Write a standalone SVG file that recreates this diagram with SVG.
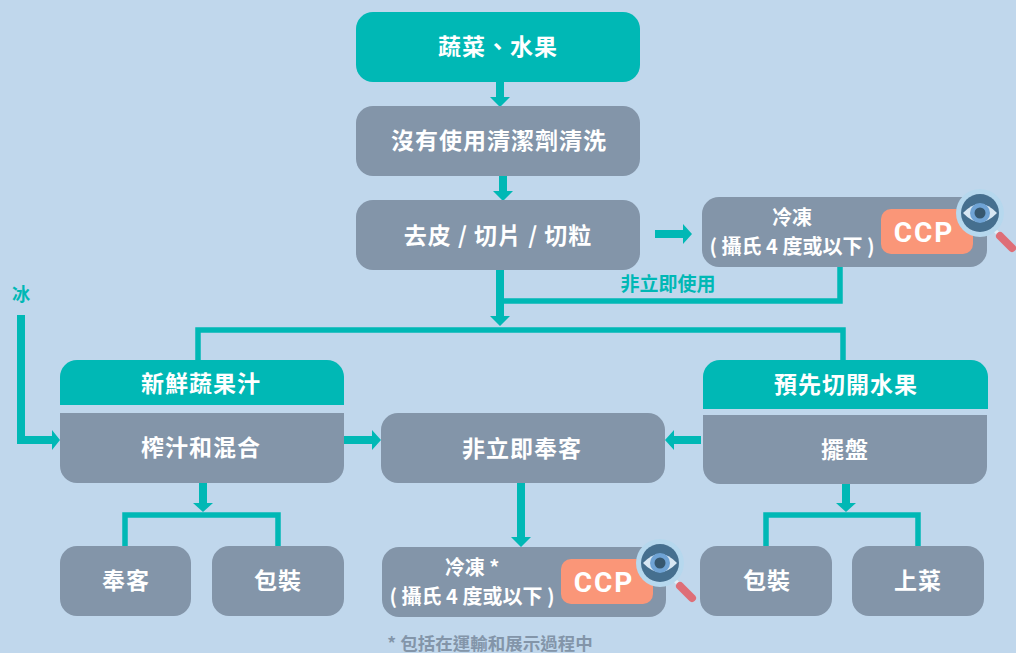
<svg xmlns="http://www.w3.org/2000/svg" width="1016" height="653" viewBox="0 0 1016 653">
<defs>
<style>
text{font-family:"Noto Sans CJK TC","Noto Sans CJK SC",sans-serif;font-weight:700;text-anchor:middle;fill:#fff}
.g{fill:#8395a9}.t{fill:#00b8b5}
.l{fill:none;stroke:#00b8b5;stroke-width:5.500}
.k{fill:none;stroke:#00b8b5;stroke-width:8}
.a{fill:#00b8b5}
.m{font-size:23px;letter-spacing:1px}
.s{font-size:20px}
.c{font-family:Roboto,"Liberation Sans",sans-serif;font-size:28px;letter-spacing:2px;font-weight:700}
</style>
<g id="lens">
<path d="M36 38L46 49" stroke="#e4eef6" stroke-width="4" fill="none"/>
<path d="M44 47L56 59" stroke="#de6e77" stroke-width="8" stroke-linecap="round" fill="none"/>
<circle cx="24" cy="24" r="24" fill="#b6d8ee"/>
<circle cx="24" cy="24" r="19" fill="#456f8f"/>
<path d="M7 24Q24 6 41 24Q24 42 7 24Z" fill="#d9e8f4"/>
<circle cx="24" cy="24" r="10" fill="#6fa3d5"/>
<circle cx="24" cy="24" r="5.500" fill="#36576f"/>
</g>
</defs>
<rect width="1016" height="653" fill="#c0d7ec"/>
<g id="connectors">
<path class="l" d="M500 301H840V267M198 360V330H843V360M125 546V515H278V546M766 546V515H918V546"/>
<path class="k" d="M500 82V98M503 176V192M655 234H684M500 270V318M21 315V440H53M344 440H373M701 440H673M521 483V538M203 483V504M846 484V504"/>
<path class="a" d="M490 97H510L500 107ZM493 191H513L503 201ZM683 224L692 234L683 244ZM490 316H510L500 326ZM52 430L60 440L52 450ZM372 430L381 440L372 450ZM674 430L665 440L674 450ZM511 537H531L521 547ZM193 503H213L203 512ZM836 503H856L846 512Z"/>
</g>
<g id="n1"><rect class="t" x="356" y="12" width="284" height="70" rx="17"/><text class="m" x="498" y="55">蔬菜、水果</text></g>
<g id="n2"><rect class="g" x="356" y="106" width="284" height="70" rx="17"/><text class="m" x="499" y="149">沒有使用清潔劑清洗</text></g>
<g id="n3"><rect class="g" x="356" y="200" width="284" height="70" rx="17"/><text class="m" x="498" y="244">去皮 / 切片 / 切粒</text></g>
<g id="n4"><rect class="g" x="702" y="197" width="285" height="70" rx="17"/><text class="s" x="792" y="225">冷凍</text><text class="s" x="792" y="254">( 攝氏 4 度或以下 )</text><rect x="881" y="209" width="92" height="45" rx="10" fill="#fa9678"/><text class="c" x="924" y="242">CCP</text><use href="#lens" x="956" y="189"/></g>
<text x="668" y="291" font-size="19" style="fill:#00b8b5">非立即使用</text>
<text x="21" y="301" font-size="18" style="fill:#00b8b5">冰</text>
<g id="n5"><path class="t" d="M60 405V377a17 17 0 0 1 17-17H327a17 17 0 0 1 17 17V405Z"/><text class="m" x="201" y="392">新鮮蔬果汁</text></g>
<g id="n6"><path class="g" d="M60 413H344V466a17 17 0 0 1-17 17H77a17 17 0 0 1-17-17Z"/><text class="m" x="201" y="456">榨汁和混合</text></g>
<g id="n7"><rect class="g" x="381" y="413" width="284" height="70" rx="17"/><text class="m" x="522" y="457">非立即奉客</text></g>
<g id="n8"><path class="t" d="M703 409V377a17 17 0 0 1 17-17H971a17 17 0 0 1 17 17V409Z"/><text class="m" x="846" y="393">預先切開水果</text></g>
<g id="n9"><path class="g" d="M703 415H987V467a17 17 0 0 1-17 17H720a17 17 0 0 1-17-17Z"/><text class="m" x="845" y="458">擺盤</text></g>
<g id="n10"><rect class="g" x="60" y="546" width="131" height="70" rx="17"/><text class="m" x="126" y="589">奉客</text></g>
<g id="n11"><rect class="g" x="212" y="546" width="132" height="70" rx="17"/><text class="m" x="278" y="589">包裝</text></g>
<g id="n12"><rect class="g" x="382" y="547" width="284" height="70" rx="17"/><text class="s" x="472" y="575">冷凍 *</text><text class="s" x="472" y="604">( 攝氏 4 度或以下 )</text><rect x="561" y="559" width="92" height="45" rx="10" fill="#fa9678"/><text class="c" x="604" y="592">CCP</text><use href="#lens" x="636" y="539"/></g>
<g id="n13"><rect class="g" x="700" y="546" width="132" height="70" rx="17"/><text class="m" x="767" y="589">包裝</text></g>
<g id="n14"><rect class="g" x="852" y="546" width="132" height="70" rx="17"/><text class="m" x="918" y="589">上菜</text></g>
<text x="490" y="650" font-size="17.500" style="fill:#8395a9">* 包括在運輸和展示過程中</text>
</svg>
